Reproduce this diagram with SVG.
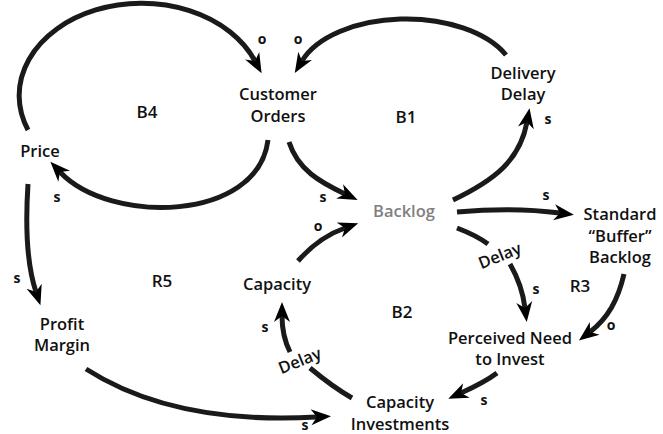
<svg xmlns="http://www.w3.org/2000/svg" width="663" height="434" viewBox="0 0 663 434">
<style>
text{font-family:"Open Sans","Liberation Sans",sans-serif;fill:#111}
.n{font-size:16.5px;font-weight:600;text-anchor:middle}
.g{fill:#808080}
.l{font-size:17px;font-weight:600;text-anchor:middle}
.p{font-size:14px;font-weight:700;text-anchor:middle}
.c{fill:none;stroke:#1a1a1a;stroke-width:5;stroke-linecap:butt}
.a{marker-end:url(#ah)}
</style>
<defs>
<marker id="ah" markerUnits="userSpaceOnUse" markerWidth="24" markerHeight="20" viewBox="0 -10 24 20" refX="6" refY="0" orient="auto">
<path d="M0,-8 L20,0 L0,8 L6,0 Z" fill="#000"/>
</marker>
</defs>
<g id="connectors">
<path class="c a" d="M28,130 A122 92 0 0 1 255,61"/>
<path class="c a" d="M268,140 C258,222 110,225 60,172"/>
<path class="c a" d="M506,55 A110 62 0 0 0 302,61"/>
<path class="c a" d="M289,142 C298,170 320,182 345,194"/>
<path class="c a" d="M453,200 C495,180 520,160 527,122"/>
<path class="c a" d="M457,212 C490,209 530,209 560,213"/>
<path class="c" d="M457,228 C470,233 480,238 488,244"/>
<path class="c a" d="M510,264 C518,278 523,292 525,308"/>
<path class="c a" d="M624,274 C618,300 608,318 590,332"/>
<path class="c a" d="M497,373 C485,382 472,388 461,393"/>
<path class="c" d="M352,398 C338,390 322,378 310,368"/>
<path class="c a" d="M290,352 C284,340 282,330 282,316"/>
<path class="c a" d="M298,261 C312,245 328,234 345,228"/>
<path class="c a" d="M28,184 C25,230 27,265 36,292"/>
<path class="c a" d="M86,369 C150,410 230,422 317,417"/>
<text class="n" transform="translate(502,261) rotate(-22)">Delay</text>
<text class="n" transform="translate(302,366) rotate(-22)">Delay</text>
<text class="p" x="262" y="44">o</text>
<text class="p" x="298" y="44">o</text>
<text class="p" x="57" y="202">s</text>
<text class="p" x="323" y="202">s</text>
<text class="p" x="548" y="124">s</text>
<text class="p" x="546" y="200">s</text>
<text class="p" x="536" y="294">s</text>
<text class="p" x="611" y="330">o</text>
<text class="p" x="484" y="405">s</text>
<text class="p" x="305" y="430">s</text>
<text class="p" x="265" y="332">s</text>
<text class="p" x="17" y="283">s</text>
<text class="p" x="318" y="231">o</text>
</g>
<g id="customer-orders"><text class="n" x="278" y="100">Customer</text><text class="n" x="278" y="122">Orders</text></g>
<g id="price"><text class="n" x="40" y="157">Price</text></g>
<g id="delivery-delay"><text class="n" x="523" y="79">Delivery</text><text class="n" x="523" y="100">Delay</text></g>
<g id="backlog"><text class="n g" x="404" y="217">Backlog</text></g>
<g id="standard-buffer-backlog"><text class="n" x="620" y="220">Standard</text><text class="n" x="620" y="242">“Buffer”</text><text class="n" x="620" y="263">Backlog</text></g>
<g id="capacity"><text class="n" x="277" y="290">Capacity</text></g>
<g id="profit-margin"><text class="n" x="62" y="330">Profit</text><text class="n" x="62" y="351">Margin</text></g>
<g id="perceived-need"><text class="n" x="510" y="344">Perceived Need</text><text class="n" x="510" y="365">to Invest</text></g>
<g id="capacity-investments"><text class="n" x="400" y="408">Capacity</text><text class="n" x="400" y="430">Investments</text></g>
<g id="loops">
<text class="l" x="147" y="118">B4</text>
<text class="l" x="406" y="123">B1</text>
<text class="l" x="162" y="287">R5</text>
<text class="l" x="402" y="318">B2</text>
<text class="l" x="580" y="292">R3</text>
</g>
</svg>
